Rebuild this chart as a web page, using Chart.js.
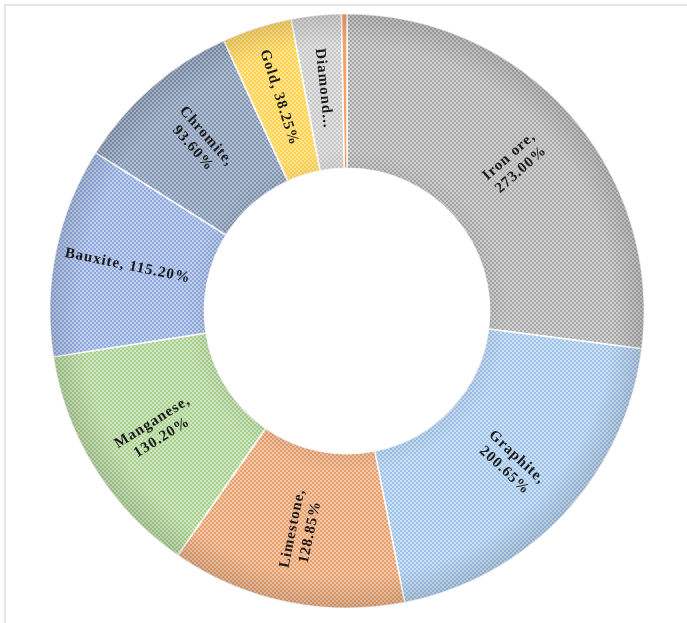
<!DOCTYPE html>
<html lang="en">
<head>
  <meta charset="UTF-8">
  <title>Mineral Share</title>
  <script src="https://cdn.jsdelivr.net/npm/chart.js"></script>
  <style>
    html, body { margin: 0; padding: 0; background: #fff; }
    .wrap { position: relative; width: 687px; height: 623px; overflow: hidden; }
    .frame {
      position: absolute; left: 4px; top: 4px; width: 700px; height: 640px;
      border: 2px solid #e6e6e6; box-sizing: border-box;
    }
    canvas { position: absolute; left: 0; top: 0; }
  </style>
</head>
<body>
  <div class="wrap">
    <div class="frame"></div>
    <canvas id="donut" width="687" height="623"></canvas>
  </div>

  <script>
    // data
    const minerals = ["Iron ore", "Graphite", "Limestone", "Manganese", "Bauxite", "Chromite", "Gold", "Diamond", "Others"];
    const shares = [273.00, 200.65, 128.85, 130.20, 115.20, 93.60, 38.25, 27.40, 3.00];
    // 2 = name and value on two lines, 1 = one line, 3 = cut short, 0 = no label
    const labelModes = [2, 2, 2, 2, 1, 2, 1, 3, 0];

    // checker fills, two tones per slice
    const tonesA = ["#a8a8a8", "#9cc2e8", "#e59f6c", "#a6cf8c", "#8ea9dc", "#8195b0", "#ffd24d", "#c6c6c6", "#f4a26a"];
    const tonesB = ["#d3d3d3", "#cfe1f4", "#f5caab", "#d2e8c4", "#c4d2ef", "#b5c2d5", "#ffe597", "#e4e4e4", "#f4a26a"];

    function checker(c1, c2) {
      const p = document.createElement("canvas");
      p.width = 4; p.height = 4;
      const g = p.getContext("2d");
      g.fillStyle = c1; g.fillRect(0, 0, 4, 4);
      g.fillStyle = c2; g.fillRect(0, 0, 2, 2); g.fillRect(2, 2, 2, 2);
      return g.createPattern(p, "repeat");
    }

    function labelLines(i) {
      const v = shares[i].toFixed(2) + "%";
      switch (labelModes[i]) {
        case 2: return [minerals[i] + ",", v];
        case 1: return [minerals[i] + ", " + v];
        case 3: return [minerals[i] + "..."];
        default: return [];
      }
    }

    const sliceLabels = {
      id: "sliceLabels",
      afterDatasetsDraw(chart) {
        const ctx = chart.ctx;
        const meta = chart.getDatasetMeta(0);
        const a0 = meta.data[0];
        const ring = a0.getProps(["x", "y", "innerRadius", "outerRadius"], true);

        // soft darker rim, like the office shading
        ctx.save();
        ctx.beginPath();
        ctx.arc(ring.x, ring.y, ring.outerRadius, 0, Math.PI * 2);
        ctx.arc(ring.x, ring.y, ring.innerRadius, 0, Math.PI * 2, true);
        ctx.clip();
        const grad = ctx.createRadialGradient(ring.x, ring.y, ring.innerRadius, ring.x, ring.y, ring.outerRadius);
        grad.addColorStop(0, "rgba(0,0,0,0.05)");
        grad.addColorStop(0.12, "rgba(0,0,0,0)");
        grad.addColorStop(0.8, "rgba(0,0,0,0)");
        grad.addColorStop(1, "rgba(0,0,0,0.12)");
        ctx.fillStyle = grad;
        ctx.fillRect(ring.x - ring.outerRadius, ring.y - ring.outerRadius, ring.outerRadius * 2, ring.outerRadius * 2);
        ctx.restore();

        ctx.save();
        ctx.font = 'bold 15px "Liberation Serif"';
        ctx.letterSpacing = "1px";
        ctx.fillStyle = "#1a1a1a";
        ctx.textAlign = "center";
        ctx.textBaseline = "middle";
        meta.data.forEach((arc, i) => {
          const lines = labelLines(i);
          if (!lines.length) return;
          const p = arc.getProps(["x", "y", "startAngle", "endAngle", "innerRadius", "outerRadius"], true);
          const mid = (p.startAngle + p.endAngle) / 2;
          const r = (p.innerRadius + p.outerRadius) / 2 + 4;
          let rot = mid;
          while (rot > Math.PI / 2) rot -= Math.PI;
          while (rot <= -Math.PI / 2) rot += Math.PI;
          ctx.save();
          ctx.translate(p.x + Math.cos(mid) * r, p.y + Math.sin(mid) * r);
          ctx.rotate(rot);
          const lh = 18;
          lines.forEach((t, k) => {
            ctx.fillText(t, 0, (k - (lines.length - 1) / 2) * lh);
          });
          ctx.restore();
        });
        ctx.restore();
      }
    };

    const ctx = document.getElementById("donut").getContext("2d");
    new Chart(ctx, {
      type: "doughnut",
      data: {
        labels: minerals,
        datasets: [{
          data: shares,
          backgroundColor: tonesA.map((c, i) => checker(c, tonesB[i])),
          borderColor: "#ffffff",
          borderWidth: 1.5
        }]
      },
      options: {
        responsive: false,
        animation: false,
        cutout: "48%",
        layout: { padding: { top: 13, bottom: 14, left: 49, right: 42 } },
        plugins: {
          legend: { display: false },
          tooltip: { enabled: false }
        }
      },
      plugins: [sliceLabels]
    });
  </script>
</body>
</html>
